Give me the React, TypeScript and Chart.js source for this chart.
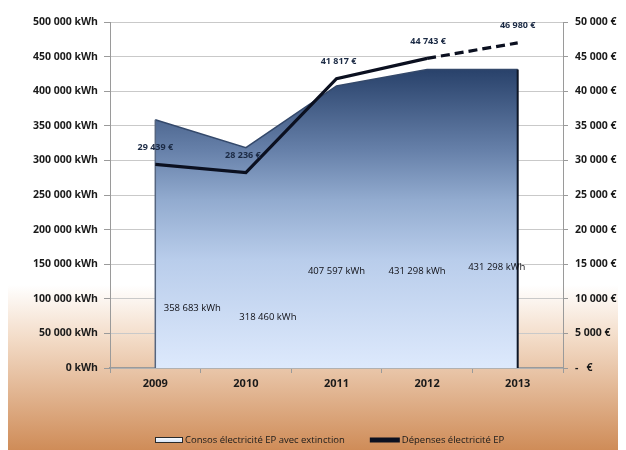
import React, { useEffect, useRef } from "react";
import { Chart, registerables } from "chart.js";

Chart.register(...registerables);

// ---- data ----
const YEARS = ["2009", "2010", "2011", "2012", "2013"];
const CONSO_KWH = [358683, 318460, 407597, 431298, 431298];
const DEPENSES_EUR = [29439, 28236, 41817, 44743, 46980];
const CONSO_LABEL = "Consos électricité EP avec extinction";
const DEPENSES_LABEL = "Dépenses électricité EP";
const KWH_MAX = 500000;
const KWH_STEP = 50000;
const EUR_MAX = 50000;
const EUR_STEP = 5000;
const DASHED_FROM_INDEX = 3; // last segment (2012 -> 2013) is a projection

// ---- label placement (layout only) ----
const KWH_LABEL_DX = [37, 22, 0, -10, -21];
const KWH_LABEL_Y_VALUE = [86700, 73700, 140000, 140000, 146000];
const EUR_LABEL_DX = [0, -3, 2, 1, 0];
const EUR_LABEL_DY = -17;

const FONT = "'Open Sans', 'DejaVu Sans', sans-serif";

const fmt = (n: number) =>
  String(Math.round(n)).replace(/\B(?=(\d{3})+(?!\d))/g, " ");

const W = 618;
const H = 442;

const backgroundPlugin = {
  id: "bgGradient",
  beforeDraw(chart: any) {
    const { ctx, width, height } = chart;
    ctx.save();
    const g = ctx.createLinearGradient(0, 0, 0, height);
    g.addColorStop(0, "#ffffff");
    g.addColorStop(277 / height, "#ffffff");
    g.addColorStop(330 / height, "#f3dcc8");
    g.addColorStop(1, "#cf8c58");
    ctx.fillStyle = g;
    ctx.fillRect(0, 0, width, height);
    ctx.restore();
  },
};

const areaEdgesPlugin = {
  id: "areaEdges",
  afterDatasetDraw(chart: any, args: any) {
    if (args.index !== 1) return;
    const meta = chart.getDatasetMeta(1);
    const pts = meta.data;
    if (!pts.length) return;
    const { ctx, chartArea } = chart;
    const first = pts[0];
    const last = pts[pts.length - 1];
    ctx.save();
    ctx.lineWidth = 1.5;
    ctx.strokeStyle = "#55657f";
    ctx.beginPath();
    ctx.moveTo(first.x, first.y);
    ctx.lineTo(first.x, chartArea.bottom);
    ctx.stroke();
    ctx.lineWidth = 2;
    ctx.strokeStyle = "#0d1525";
    ctx.beginPath();
    ctx.moveTo(last.x, last.y);
    ctx.lineTo(last.x, chartArea.bottom);
    ctx.stroke();
    ctx.restore();
  },
};

const dataLabelsPlugin = {
  id: "dataLabels",
  afterDatasetsDraw(chart: any) {
    const { ctx } = chart;
    const yScale = chart.scales.y;
    const lineMeta = chart.getDatasetMeta(0);
    const areaMeta = chart.getDatasetMeta(1);
    ctx.save();
    ctx.textAlign = "center";
    ctx.textBaseline = "middle";
    // € labels above line points
    ctx.font = `bold 9px ${FONT}`;
    ctx.fillStyle = "#1b2a44";
    lineMeta.data.forEach((p: any, i: number) => {
      ctx.fillText(fmt(DEPENSES_EUR[i]) + " €", p.x + EUR_LABEL_DX[i], p.y + EUR_LABEL_DY);
    });
    // kWh labels inside the area
    ctx.font = `9.5px ${FONT}`;
    ctx.fillStyle = "#0e0e14";
    areaMeta.data.forEach((p: any, i: number) => {
      ctx.fillText(
        fmt(CONSO_KWH[i]) + " kWh",
        p.x + KWH_LABEL_DX[i],
        yScale.getPixelForValue(KWH_LABEL_Y_VALUE[i])
      );
    });
    ctx.restore();
  },
};

const legendPlugin = {
  id: "customLegend",
  afterDraw(chart: any) {
    const { ctx } = chart;
    const y = 432;
    ctx.save();
    ctx.font = `9.5px ${FONT}`;
    ctx.textBaseline = "middle";
    ctx.textAlign = "left";
    ctx.fillStyle = "#1a1a1a";
    let x = 147;
    // item 1: area swatch
    const g = ctx.createLinearGradient(0, y - 3, 0, y + 3);
    g.addColorStop(0, "#ffffff");
    g.addColorStop(1, "#cfdff5");
    ctx.fillStyle = g;
    ctx.fillRect(x, y - 3, 28, 6);
    ctx.strokeStyle = "#2a2a2a";
    ctx.lineWidth = 1;
    ctx.strokeRect(x + 0.5, y - 3 + 0.5, 27, 5);
    x += 30;
    ctx.fillStyle = "#1a1a1a";
    const l1 = chart.data.datasets[1].label;
    ctx.fillText(l1, x, y);
    x += ctx.measureText(l1).width + 25;
    // item 2: line swatch
    ctx.fillStyle = "#0b1020";
    ctx.fillRect(x, y - 2.5, 30, 5);
    x += 32;
    ctx.fillStyle = "#1a1a1a";
    ctx.fillText(chart.data.datasets[0].label, x, y);
    ctx.restore();
  },
};

export default function App() {
  const ref = useRef<HTMLCanvasElement | null>(null);

  useEffect(() => {
    if (!ref.current) return;
    const chart = new Chart(ref.current, {
      type: "line",
      data: {
        labels: YEARS,
        datasets: [
          {
            label: DEPENSES_LABEL,
            data: DEPENSES_EUR,
            yAxisID: "y2",
            borderColor: "#0b1020",
            borderWidth: 3.2,
            pointRadius: 0,
            fill: false,
            tension: 0,
            order: 0,
            segment: {
              borderDash: (c: any) =>
                c.p0DataIndex >= DASHED_FROM_INDEX ? [9, 5] : undefined,
            },
          } as any,
          {
            label: CONSO_LABEL,
            data: CONSO_KWH,
            yAxisID: "y",
            borderColor: "#34496b",
            borderWidth: 1.5,
            pointRadius: 0,
            tension: 0,
            fill: "origin",
            order: 1,
            backgroundColor: (c: any) => {
              const ca = c.chart.chartArea;
              if (!ca) return "#6b86b0";
              const g = c.chart.ctx.createLinearGradient(0, ca.top, 0, ca.bottom);
              g.addColorStop(0, "#1f3a64");
              g.addColorStop(0.139, "#29426b");
              g.addColorStop(0.37, "#6680a9");
              g.addColorStop(0.514, "#92abcf");
              g.addColorStop(0.688, "#b9cdeb");
              g.addColorStop(1, "#dde9fc");
              return g;
            },
          } as any,
        ],
      },
      options: {
        animation: false,
        responsive: false,
        maintainAspectRatio: false,
        layout: { padding: { top: 14, left: 0, right: 0, bottom: 0 } },
        plugins: {
          legend: { display: false },
          tooltip: { enabled: false },
        },
        scales: {
          x: {
            type: "category",
            offset: true,
            grid: {
              drawOnChartArea: false,
              offset: true,
              tickLength: 5,
              color: "#9a9a9a",
            },
            border: { color: "#9a9a9a", width: 1.5 },
            ticks: {
              padding: 4,
              color: "#1a1a1a",
              font: { family: FONT, size: 11, weight: "bold" },
            },
            afterFit: (s: any) => {
              s.height = 82;
            },
          },
          y: {
            position: "left",
            min: 0,
            max: KWH_MAX,
            ticks: {
              stepSize: KWH_STEP,
              padding: 6,
              color: "#1a1a1a",
              font: { family: FONT, size: 10.5, weight: "bold" },
              callback: (v: any) => fmt(Number(v)) + " kWh",
            },
            grid: {
              color: "#c9c9c9",
              tickColor: "#9a9a9a",
              tickLength: 6,
            },
            border: { color: "#9a9a9a" },
            afterFit: (s: any) => {
              s.width = 102;
            },
          },
          y2: {
            position: "right",
            min: 0,
            max: EUR_MAX,
            ticks: {
              stepSize: EUR_STEP,
              padding: 7,
              color: "#1a1a1a",
              font: { family: FONT, size: 10.5, weight: "bold" },
              callback: (v: any) =>
                Number(v) === 0 ? "-   €" : fmt(Number(v)) + " €",
            },
            grid: {
              drawOnChartArea: false,
              tickColor: "#9a9a9a",
              tickLength: 5,
            },
            border: { color: "#9a9a9a" },
            afterFit: (s: any) => {
              s.width = 63;
            },
          },
        },
      } as any,
      plugins: [backgroundPlugin, areaEdgesPlugin, dataLabelsPlugin, legendPlugin],
    });
    return () => chart.destroy();
  }, []);

  return (
    <div style={{ width: W, height: H }}>
      <canvas ref={ref} width={W} height={H} style={{ display: "block" }} />
    </div>
  );
}
